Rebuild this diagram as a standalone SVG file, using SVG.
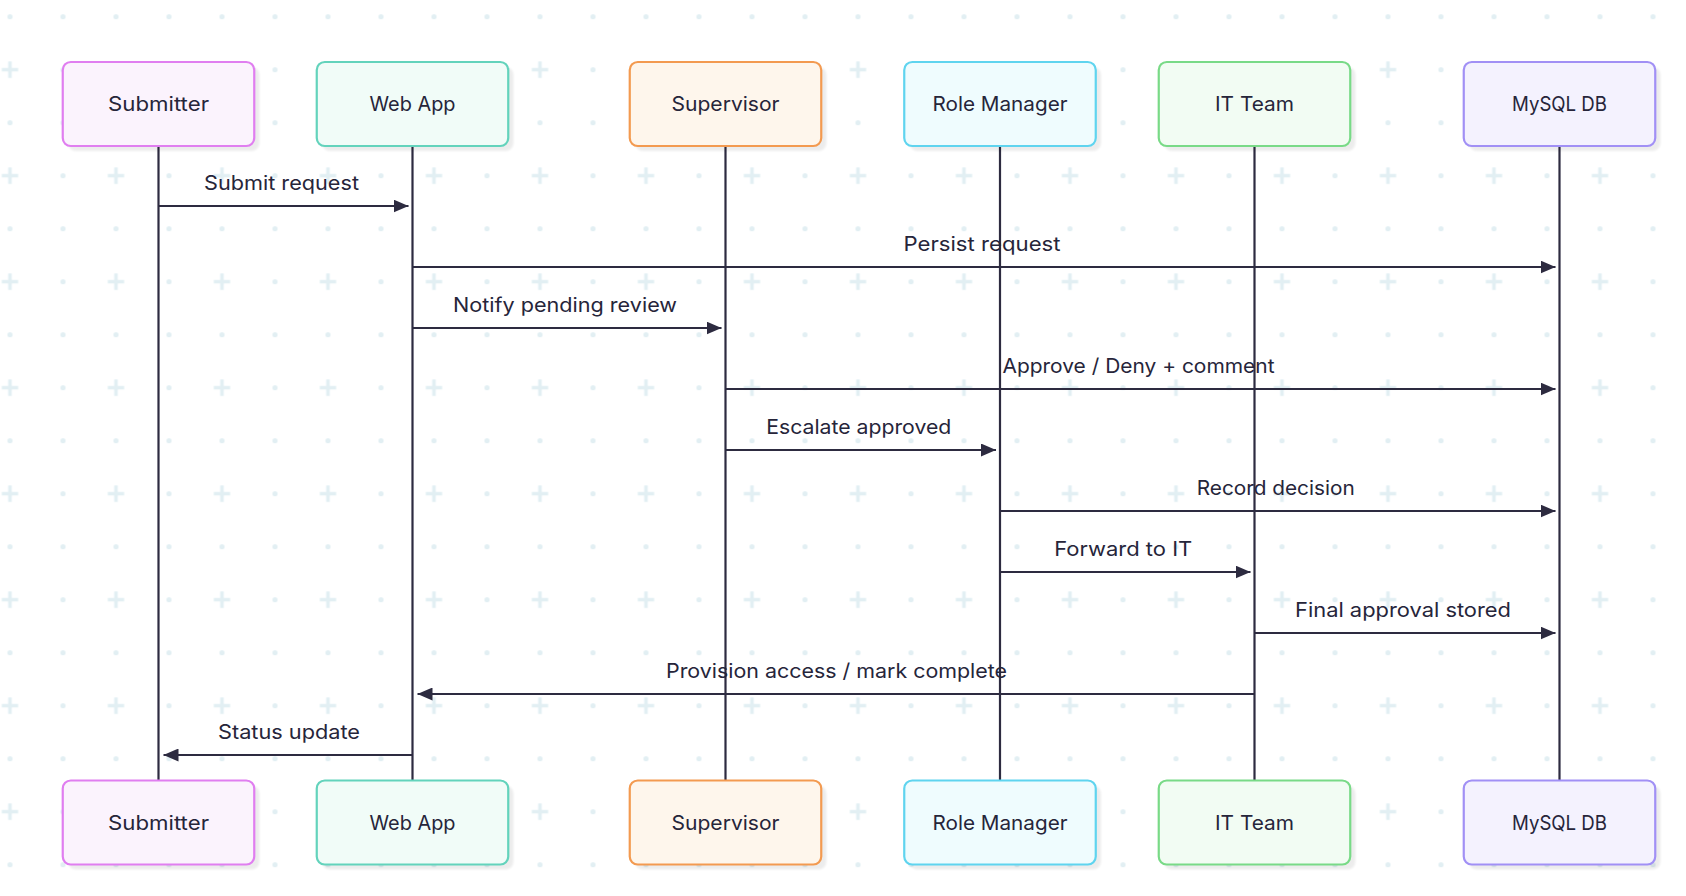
<svg xmlns="http://www.w3.org/2000/svg" width="1686" height="896" viewBox="0 0 1686 896">
  <defs>
    <pattern id="grid" patternUnits="userSpaceOnUse" x="-16.5" y="-9.8" width="106" height="106">
      <circle cx="26.5" cy="26.5" r="2.6" fill="#e2eff3"/>
      <circle cx="79.5" cy="26.5" r="2.6" fill="#e2eff3"/>
      <circle cx="79.5" cy="79.5" r="2.6" fill="#e2eff3"/>
      <path d="M18.3,79.5 H34.7 M26.5,71.3 V87.7" stroke="#e2eff3" stroke-width="3.6"/>
    </pattern>
    <marker id="ah" viewBox="0 0 15 13" markerWidth="15" markerHeight="13" refX="15" refY="6.5" orient="auto" markerUnits="userSpaceOnUse">
      <path d="M0,0 L15,6.5 L0,13 z" fill="#2d2b40"/>
    </marker>
    <filter id="blur" x="-10%" y="-10%" width="120%" height="120%">
      <feGaussianBlur stdDeviation="1"/>
    </filter>
  </defs>
  <style>
    .shadow { fill: #000; opacity: 0.07; filter: url(#blur); }
    .box { stroke-width: 2.2; }
    .alabel { font-family: Inter, "DejaVu Sans", sans-serif; font-size: 20px; fill: #26253a; text-anchor: middle; }
    .mlabel { font-family: Inter, "DejaVu Sans", sans-serif; font-size: 20px; fill: #26253a; text-anchor: middle; }
    .life { stroke: #2d2b40; stroke-width: 2.2; fill: none; }
    .msg { stroke: #2d2b40; stroke-width: 2.2; fill: none; marker-end: url(#ah); }
    .pink { fill: #fbf3fd; stroke: #e07ef0; }
    .teal { fill: #f1fcf8; stroke: #63d3bc; }
    .orange { fill: #fef6ec; stroke: #f39a50; }
    .cyan { fill: #effcfe; stroke: #5fd4ef; }
    .green { fill: #f2fcf3; stroke: #79da87; }
    .purple { fill: #f4f2fe; stroke: #a190f5; }
  </style>

  <rect x="0" y="0" width="1686" height="896" fill="#ffffff"/>
  <rect x="0" y="0" width="1686" height="896" fill="url(#grid)"/>

  <g id="lifelines">
    <line class="life" x1="158.5" y1="146" x2="158.5" y2="781"/>
    <line class="life" x1="412.5" y1="146" x2="412.5" y2="781"/>
    <line class="life" x1="725.5" y1="146" x2="725.5" y2="781"/>
    <line class="life" x1="1000" y1="146" x2="1000" y2="781"/>
    <line class="life" x1="1254.5" y1="146" x2="1254.5" y2="781"/>
    <line class="life" x1="1559.5" y1="146" x2="1559.5" y2="781"/>
  </g>

  <g id="submitter-top">
    <rect class="shadow" x="68" y="67" width="191.5" height="84" rx="8"/>
    <rect class="box pink" x="62.75" y="62" width="191.5" height="84" rx="8"/>
    <text class="alabel" x="158.5" y="111" textLength="101" lengthAdjust="spacingAndGlyphs">Submitter</text>
  </g>
  <g id="webapp-top">
    <rect class="shadow" x="322" y="67" width="191.5" height="84" rx="8"/>
    <rect class="box teal" x="316.75" y="62" width="191.5" height="84" rx="8"/>
    <text class="alabel" x="412.5" y="111" textLength="86" lengthAdjust="spacingAndGlyphs">Web App</text>
  </g>
  <g id="supervisor-top">
    <rect class="shadow" x="635" y="67" width="191.5" height="84" rx="8"/>
    <rect class="box orange" x="629.75" y="62" width="191.5" height="84" rx="8"/>
    <text class="alabel" x="725.5" y="111" textLength="108" lengthAdjust="spacingAndGlyphs">Supervisor</text>
  </g>
  <g id="rolemanager-top">
    <rect class="shadow" x="909.5" y="67" width="191.5" height="84" rx="8"/>
    <rect class="box cyan" x="904.25" y="62" width="191.5" height="84" rx="8"/>
    <text class="alabel" x="1000" y="111" textLength="135" lengthAdjust="spacingAndGlyphs">Role Manager</text>
  </g>
  <g id="itteam-top">
    <rect class="shadow" x="1164" y="67" width="191.5" height="84" rx="8"/>
    <rect class="box green" x="1158.75" y="62" width="191.5" height="84" rx="8"/>
    <text class="alabel" x="1254.5" y="111" textLength="79" lengthAdjust="spacingAndGlyphs">IT Team</text>
  </g>
  <g id="mysql-top">
    <rect class="shadow" x="1469" y="67" width="191.5" height="84" rx="8"/>
    <rect class="box purple" x="1463.75" y="62" width="191.5" height="84" rx="8"/>
    <text class="alabel" x="1559.5" y="111" textLength="95" lengthAdjust="spacingAndGlyphs">MySQL DB</text>
  </g>

  <g id="connectors">
    <line class="msg" x1="158.5" y1="206" x2="408.5" y2="206"/>
    <line class="msg" x1="412.5" y1="267" x2="1555.5" y2="267"/>
    <line class="msg" x1="412.5" y1="328" x2="721.5" y2="328"/>
    <line class="msg" x1="725.5" y1="389" x2="1555.5" y2="389"/>
    <line class="msg" x1="725.5" y1="450" x2="996" y2="450"/>
    <line class="msg" x1="1000" y1="511" x2="1555.5" y2="511"/>
    <line class="msg" x1="1000" y1="572" x2="1250.5" y2="572"/>
    <line class="msg" x1="1254.5" y1="633" x2="1555.5" y2="633"/>
    <line class="msg" x1="1254.5" y1="694" x2="417.5" y2="694"/>
    <line class="msg" x1="412.5" y1="755" x2="163.5" y2="755"/>
  </g>

  <g id="message-labels">
    <text class="mlabel" x="281.5" y="190" textLength="155" lengthAdjust="spacingAndGlyphs">Submit request</text>
    <text class="mlabel" x="982" y="251" textLength="157" lengthAdjust="spacingAndGlyphs">Persist request</text>
    <text class="mlabel" x="565" y="312" textLength="224" lengthAdjust="spacingAndGlyphs">Notify pending review</text>
    <text class="mlabel" x="1138.5" y="373" textLength="272" lengthAdjust="spacingAndGlyphs">Approve / Deny + comment</text>
    <text class="mlabel" x="858.75" y="434" textLength="185" lengthAdjust="spacingAndGlyphs">Escalate approved</text>
    <text class="mlabel" x="1275.75" y="495" textLength="158" lengthAdjust="spacingAndGlyphs">Record decision</text>
    <text class="mlabel" x="1123.25" y="556" textLength="138" lengthAdjust="spacingAndGlyphs">Forward to IT</text>
    <text class="mlabel" x="1403" y="617" textLength="216" lengthAdjust="spacingAndGlyphs">Final approval stored</text>
    <text class="mlabel" x="836.5" y="678" textLength="341" lengthAdjust="spacingAndGlyphs">Provision access / mark complete</text>
    <text class="mlabel" x="289" y="739" textLength="142" lengthAdjust="spacingAndGlyphs">Status update</text>
  </g>

  <g id="submitter-bottom">
    <rect class="shadow" x="68" y="785.5" width="191.5" height="84" rx="8"/>
    <rect class="box pink" x="62.75" y="780.5" width="191.5" height="84" rx="8"/>
    <text class="alabel" x="158.5" y="829.5" textLength="101" lengthAdjust="spacingAndGlyphs">Submitter</text>
  </g>
  <g id="webapp-bottom">
    <rect class="shadow" x="322" y="785.5" width="191.5" height="84" rx="8"/>
    <rect class="box teal" x="316.75" y="780.5" width="191.5" height="84" rx="8"/>
    <text class="alabel" x="412.5" y="829.5" textLength="86" lengthAdjust="spacingAndGlyphs">Web App</text>
  </g>
  <g id="supervisor-bottom">
    <rect class="shadow" x="635" y="785.5" width="191.5" height="84" rx="8"/>
    <rect class="box orange" x="629.75" y="780.5" width="191.5" height="84" rx="8"/>
    <text class="alabel" x="725.5" y="829.5" textLength="108" lengthAdjust="spacingAndGlyphs">Supervisor</text>
  </g>
  <g id="rolemanager-bottom">
    <rect class="shadow" x="909.5" y="785.5" width="191.5" height="84" rx="8"/>
    <rect class="box cyan" x="904.25" y="780.5" width="191.5" height="84" rx="8"/>
    <text class="alabel" x="1000" y="829.5" textLength="135" lengthAdjust="spacingAndGlyphs">Role Manager</text>
  </g>
  <g id="itteam-bottom">
    <rect class="shadow" x="1164" y="785.5" width="191.5" height="84" rx="8"/>
    <rect class="box green" x="1158.75" y="780.5" width="191.5" height="84" rx="8"/>
    <text class="alabel" x="1254.5" y="829.5" textLength="79" lengthAdjust="spacingAndGlyphs">IT Team</text>
  </g>
  <g id="mysql-bottom">
    <rect class="shadow" x="1469" y="785.5" width="191.5" height="84" rx="8"/>
    <rect class="box purple" x="1463.75" y="780.5" width="191.5" height="84" rx="8"/>
    <text class="alabel" x="1559.5" y="829.5" textLength="95" lengthAdjust="spacingAndGlyphs">MySQL DB</text>
  </g>
</svg>
